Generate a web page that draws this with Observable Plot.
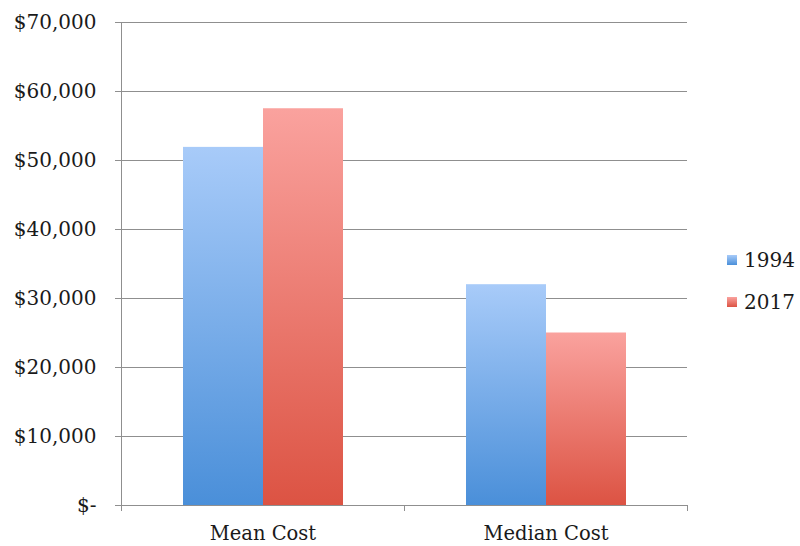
<!DOCTYPE html>
<html>
<head>
<meta charset="utf-8">
<script src="https://cdn.jsdelivr.net/npm/d3@7"></script>
<script src="https://cdn.jsdelivr.net/npm/@observablehq/plot@0.6"></script>
<style>
  html, body { margin: 0; padding: 0; background: #fff; }
  #wrap { position: relative; width: 800px; height: 546px; font-family: "DejaVu Serif", serif; }
  #legend { position: absolute; left: 727px; top: 247px; font-size: 20px; color: #1a1a1a; }
  .item { display: flex; align-items: center; height: 26px; margin-bottom: 16px; }
  .sw { width: 10px; height: 10px; margin-right: 7px; }
</style>
</head>
<body>
<div id="wrap"><div id="legend"></div></div>
<script>
const categories = ["Mean Cost", "Median Cost"];
const years = ["1994", "2017"];
const values1994 = [51900, 32000];
const values2017 = [57500, 25000];
const yTicks = [0, 10000, 20000, 30000, 40000, 50000, 60000, 70000];
const gradientTops = ["#a8cbf9", "#faa29e"];
const gradientBottoms = ["#4a8fd9", "#dc5343"];

const data = [];
categories.forEach((c, i) => {
  data.push({category: c, year: years[0], value: values1994[i]});
  data.push({category: c, year: years[1], value: values2017[i]});
});

const gridColor = "#8f8f8f";
const fmt = d => d === 0 ? "$-" : "$" + d3.format(",")(d);

const chart = Plot.plot({
  width: 800,
  height: 546,
  marginLeft: 121,
  marginRight: 113,
  marginTop: 22,
  marginBottom: 41,
  style: {fontFamily: "DejaVu Serif, serif", fontSize: "20px", color: "#1a1a1a", background: "#fff"},
  fx: {domain: categories, padding: 0, label: null},
  x: {domain: years, paddingInner: 0, paddingOuter: 0.758, axis: null},
  y: {domain: [0, 70000], label: null},
  color: {domain: years, range: ["url(#g1994)", "url(#g2017)"]},
  marks: [
    Plot.gridY(yTicks, {stroke: gridColor, strokeOpacity: 1, strokeWidth: 1}),
    Plot.barY(data, {fx: "category", x: "year", y: "value", fill: "year"}),
    Plot.axisY({ticks: yTicks, tickSize: 6, tickPadding: 19, tickFormat: fmt, stroke: gridColor, fill: "#1a1a1a", fontSize: 20, label: null}),
    Plot.axisFx({anchor: "bottom", tickSize: 0, tickPadding: 21, label: null, fill: "#1a1a1a", fontSize: 19.5})
  ]
});

const svg = d3.select(chart);
const defs = svg.insert("defs", ":first-child");
years.forEach((yr, i) => {
  const g = defs.append("linearGradient").attr("id", "g" + yr)
    .attr("x1", 0).attr("y1", 0).attr("x2", 0).attr("y2", 1);
  g.append("stop").attr("offset", "0%").attr("stop-color", gradientTops[i]);
  g.append("stop").attr("offset", "100%").attr("stop-color", gradientBottoms[i]);
});

// axis domain lines and bottom tick marks
const fx = chart.scale("fx");
const y = chart.scale("y");
const left = 121;
const y0 = y.apply(0), yTop = y.apply(70000);
const axes = svg.append("g").attr("stroke", gridColor).attr("stroke-width", 1);
axes.append("line").attr("x1", left + 0.5).attr("x2", left + 0.5).attr("y1", yTop).attr("y2", y0 + 6);
const step = fx.step;
[0, 1, 2].forEach(k => {
  const xx = Math.round(left + k * step) + 0.5;
  axes.append("line").attr("x1", xx).attr("x2", xx).attr("y1", y0).attr("y2", y0 + 6);
});

document.getElementById("wrap").prepend(chart);
chart.style.position = "absolute";
chart.style.left = "0";
chart.style.top = "0";

const legend = document.getElementById("legend");
years.forEach((yr, i) => {
  const item = document.createElement("div");
  item.className = "item";
  const sw = document.createElement("div");
  sw.className = "sw";
  sw.style.background = `linear-gradient(${gradientTops[i]}, ${gradientBottoms[i]})`;
  const t = document.createElement("span");
  t.textContent = yr;
  item.appendChild(sw);
  item.appendChild(t);
  legend.appendChild(item);
});
</script>
</body>
</html>
